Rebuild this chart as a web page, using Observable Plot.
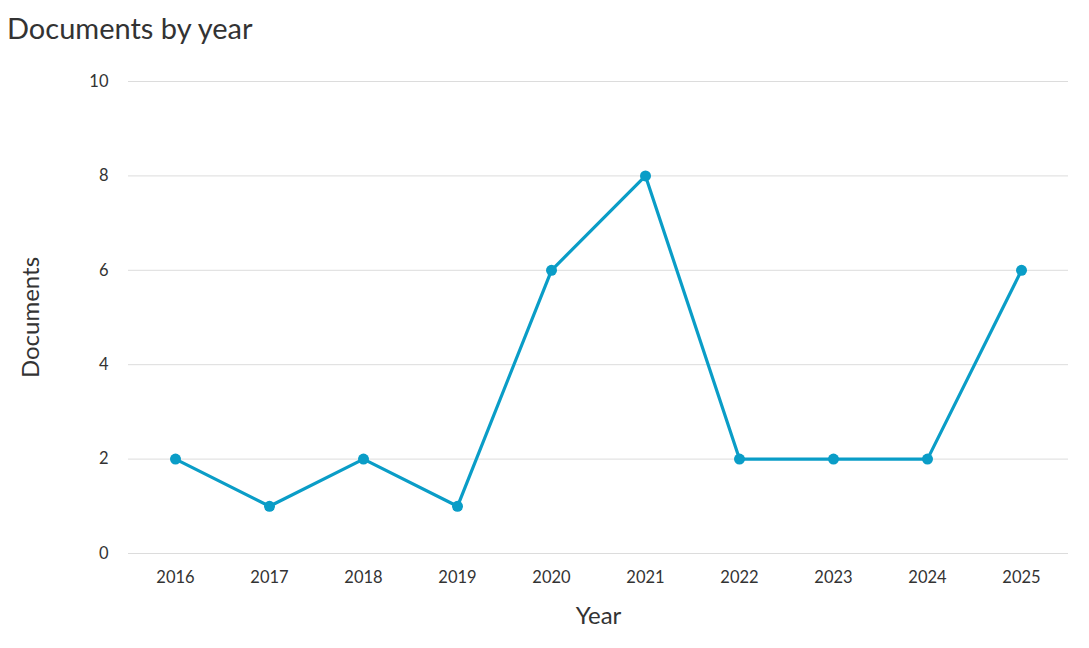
<!DOCTYPE html>
<html>
<head>
<meta charset="utf-8">
<script src="https://cdn.jsdelivr.net/npm/d3@7"></script>
<script src="https://cdn.jsdelivr.net/npm/@observablehq/plot@0.6"></script>
<style>
  body { margin: 0; background: #fff; font-family: Lato, "Open Sans", sans-serif; }
  #title { height: 50px; font-size: 29px; color: #333; padding-left: 7px; line-height: 56px; }
</style>
</head>
<body>
<div id="title">Documents by year</div>
<div id="chart"></div>
<script>
const years = ["2016","2017","2018","2019","2020","2021","2022","2023","2024","2025"];
const documents = [2, 1, 2, 1, 6, 8, 2, 2, 2, 6];
const yTicks = [0, 2, 4, 6, 8, 10];

const data = years.map((y, i) => ({year: y, count: documents[i]}));
const color = "#0a9dc7";

const chart = Plot.plot({
  width: 1089,
  height: 598,
  marginTop: 31,
  marginBottom: 95,
  marginLeft: 128,
  marginRight: 21,
  style: {fontFamily: "Lato, 'Open Sans', sans-serif", fontSize: "16px", color: "#333", background: "#fff"},
  x: {type: "band", domain: years, padding: 0, label: null},
  y: {domain: [0, 10], label: null},
  marks: [
    Plot.ruleY(yTicks, {stroke: "#dcdcdc", strokeWidth: 1}),
    Plot.axisX({tickSize: 0, tickPadding: 18, fontSize: 16.5, fill: "#333"}),
    Plot.axisY({ticks: yTicks, tickSize: 0, tickPadding: 20, fontSize: 16.5, fill: "#333"}),
    Plot.text(["Year"], {frameAnchor: "bottom", dy: 70, fontSize: 24, fill: "#333"}),
    Plot.text(["Documents"], {frameAnchor: "left", dx: -97, rotate: -90, textAnchor: "middle", fontSize: 24, fill: "#333"}),
    Plot.line(data, {x: "year", y: "count", stroke: color, strokeWidth: 3.2}),
    Plot.dot(data, {x: "year", y: "count", fill: color, r: 5.5})
  ]
});
document.getElementById("chart").appendChild(chart);
</script>
</body>
</html>
